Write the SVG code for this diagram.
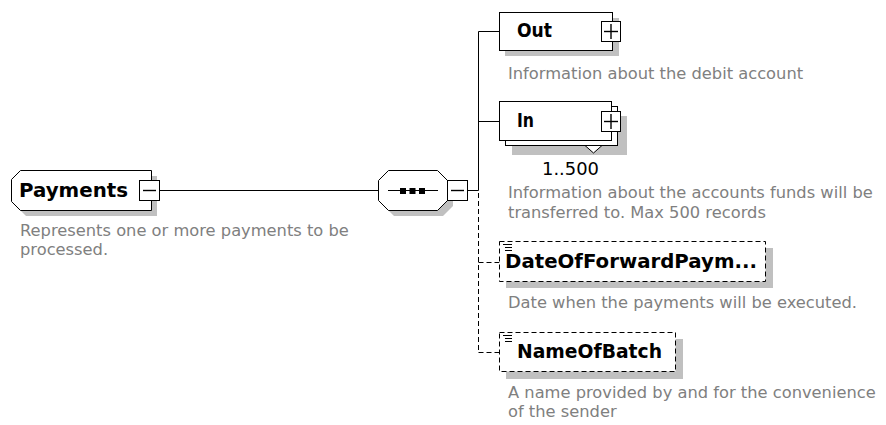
<svg xmlns="http://www.w3.org/2000/svg" width="886" height="425" viewBox="0 0 886 425">
  <style>
    .box{fill:#fff;stroke:#000;stroke-width:1}
    .optbox{fill:#fff;stroke:#000;stroke-width:1;stroke-dasharray:5 3}
    .shadow{fill:#c0c0c0}
    .name{font-family:"DejaVu Sans",sans-serif;font-weight:bold;font-size:19px;fill:#000}
    .doc{font-family:"DejaVu Sans",sans-serif;font-size:16.3px;fill:#808080}
    .occ{font-family:"DejaVu Sans",sans-serif;font-size:17px;fill:#000}
    .wire{stroke:#000;stroke-width:1;fill:none}
    .optwire{stroke:#000;stroke-width:1;fill:none;stroke-dasharray:5 3}
    .sign{stroke:#000;stroke-width:1.4}
  </style>
  <defs>
    <!-- expand / collapse buttons -->
    <g id="btn-minus">
      <rect x="0.5" y="0.5" width="20" height="20" class="box"/>
      <line x1="4" y1="10.5" x2="17" y2="10.5" class="sign"/>
    </g>
    <g id="btn-plus">
      <rect x="0.5" y="0.5" width="19" height="20" class="box"/>
      <line x1="3" y1="10.5" x2="17" y2="10.5" class="sign"/>
      <line x1="10" y1="3" x2="10" y2="18" class="sign"/>
    </g>
    <!-- simple-content marker -->
    <g id="simple-mark" class="wire">
      <line x1="503" y1="0.5" x2="512" y2="0.5"/>
      <line x1="505" y1="3.5" x2="512" y2="3.5"/>
      <line x1="505" y1="6.5" x2="512" y2="6.5"/>
    </g>
  </defs>

  <!-- connectors -->
  <g id="connectors">
    <line x1="159.5" y1="190.5" x2="378.5" y2="190.5" class="wire"/>
    <line x1="467.5" y1="190.5" x2="478.5" y2="190.5" class="wire"/>
    <line x1="478.5" y1="31.5" x2="478.5" y2="190.5" class="wire"/>
    <line x1="478.5" y1="31.5" x2="499.5" y2="31.5" class="wire"/>
    <line x1="478.5" y1="121.5" x2="499.5" y2="121.5" class="wire"/>
    <line x1="478.5" y1="193" x2="478.5" y2="352.5" class="optwire"/>
    <line x1="478.5" y1="262.5" x2="499.5" y2="262.5" class="optwire"/>
    <line x1="478.5" y1="352.5" x2="499.5" y2="352.5" class="optwire"/>
  </g>

  <!-- root element -->
  <g id="node-payments">
    <polygon class="shadow" points="26,176 157,176 157,216 26,216 17,207 17,185"/>
    <polygon class="box" points="20.5,170.5 151.5,170.5 151.5,210.5 20.5,210.5 11.5,201.5 11.5,179.5"/>
    <text x="19" y="197" class="name" textLength="109" lengthAdjust="spacingAndGlyphs">Payments</text>
    <use href="#btn-minus" x="139" y="180"/>
    <text x="20" y="236" class="doc">Represents one or more payments to be</text>
    <text x="20" y="255" class="doc">processed.</text>
  </g>

  <!-- sequence compositor -->
  <g id="node-sequence">
    <polygon class="shadow" points="394,176 443,176 453,186 453,206 443,216 394,216 384,206 384,186"/>
    <polygon class="box" points="388.5,170.5 437.5,170.5 447.5,180.5 447.5,200.5 437.5,210.5 388.5,210.5 378.5,200.5 378.5,180.5"/>
    <line x1="388" y1="190.5" x2="438" y2="190.5" class="wire"/>
    <rect x="400" y="188" width="6" height="6"/>
    <rect x="409.5" y="188" width="6" height="6"/>
    <rect x="419" y="188" width="6" height="6"/>
    <use href="#btn-minus" x="447" y="180"/>
  </g>

  <!-- Out -->
  <g id="node-out">
    <rect class="shadow" x="505" y="18" width="114" height="38"/>
    <rect class="box" x="499.5" y="12.5" width="113" height="38"/>
    <text x="517" y="37" class="name" textLength="35" lengthAdjust="spacingAndGlyphs">Out</text>
    <use href="#btn-plus" x="601" y="21"/>
    <text x="508" y="79" class="doc">Information about the debit account</text>
  </g>

  <!-- In (1..500) -->
  <g id="node-in">
    <rect class="shadow" x="512" y="116" width="115" height="39"/>
    <rect class="box" x="505.5" y="106.5" width="112" height="39"/>
    <polygon class="box" points="585,145.5 602,145.5 593.5,153"/>
    <rect class="box" x="499.5" y="101.5" width="112" height="39"/>
    <text x="517" y="127" class="name" textLength="17" lengthAdjust="spacingAndGlyphs">In</text>
    <use href="#btn-plus" x="601" y="111"/>
    <text x="542" y="175" class="occ" textLength="57" lengthAdjust="spacingAndGlyphs">1..500</text>
    <text x="508" y="198" class="doc">Information about the accounts funds will be</text>
    <text x="508" y="218" class="doc">transferred to. Max 500 records</text>
  </g>

  <!-- DateOfForwardPayment (optional) -->
  <g id="node-dateofforwardpayment">
    <rect class="shadow" x="506" y="248" width="267" height="40"/>
    <rect class="optbox" x="499.5" y="241.5" width="266" height="40"/>
    <use href="#simple-mark" y="244"/>
    <text x="505" y="268" class="name" textLength="252" lengthAdjust="spacingAndGlyphs">DateOfForwardPaym...</text>
    <text x="508" y="308" class="doc">Date when the payments will be executed.</text>
  </g>

  <!-- NameOfBatch (optional) -->
  <g id="node-nameofbatch">
    <rect class="shadow" x="506" y="339" width="177" height="40"/>
    <rect class="optbox" x="499.5" y="332.5" width="176" height="39"/>
    <use href="#simple-mark" y="335"/>
    <text x="517" y="358" class="name" textLength="145" lengthAdjust="spacingAndGlyphs">NameOfBatch</text>
    <text x="508" y="398" class="doc">A name provided by and for the convenience</text>
    <text x="508" y="417" class="doc">of the sender</text>
  </g>
</svg>
